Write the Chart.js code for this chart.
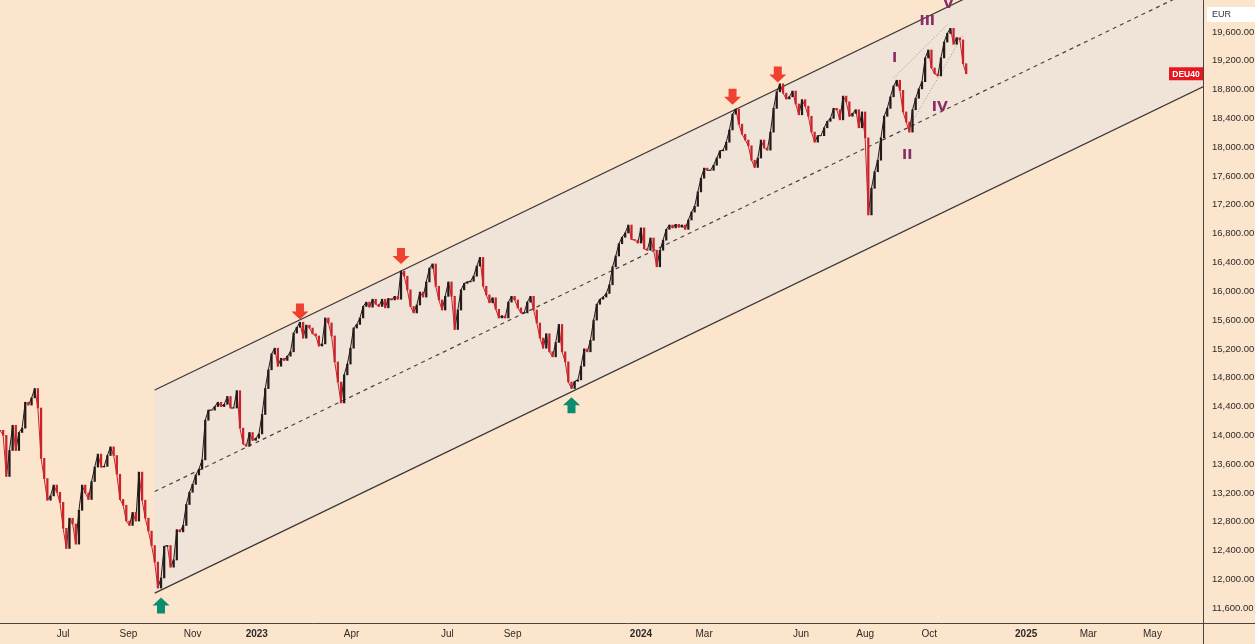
<!DOCTYPE html>
<html>
<head>
<meta charset="utf-8">
<script src="https://cdn.jsdelivr.net/npm/chart.js@4.4.0/dist/chart.umd.min.js"></script>
<style>
  html, body { margin: 0; padding: 0; background: #fce5cd; }
  #wrap { width: 1255px; height: 644px; }
</style>
</head>
<body>
<div id="wrap"><canvas id="chart" width="1255" height="644"></canvas></div>
<script>
// ============================================
// DEU40 with rising channel (x = days since 2023-01-01)
// ============================================

// price, one reading every 3 calendar days starting 2022-05-02
const firstDay = -244
const stepDays = 3
const closes = [
  14070, 14000, 13430, 13790, 14140, 13790, 14040, 14100, 14460, 14420,
  14520, 14650, 14380, 13680, 13400, 13100, 13160, 13310, 13210, 13070,
  12710, 12430, 12850, 12770, 12490, 12960, 13310, 13200, 13110, 13360,
  13560, 13740, 13560, 13570, 13720, 13840, 13720, 13460, 13110, 13030,
  12810, 12750, 12930, 12810, 13490, 13100, 12850, 12670, 12470, 12240,
  11880, 12020, 12460, 12470, 12170, 12270, 12690, 12660, 12750, 13040,
  13210, 13320, 13450, 13530, 13660, 14210, 14350, 14350, 14400, 14460,
  14400, 14430, 14540, 14380, 14380, 14620, 14100, 13880, 13850, 14040,
  13930, 13960, 14020, 14290, 14650, 14910, 15130, 15210, 14960, 15070,
  15040, 15100, 15160, 15420, 15500, 15570, 15350, 15530, 15490, 15410,
  15380, 15240, 15270, 15630, 15560, 15380, 15020, 14740, 14450, 14840,
  14990, 15210, 15490, 15540, 15630, 15790, 15850, 15780, 15890, 15820,
  15790, 15890, 15770, 15900, 15880, 15930, 15890, 16280, 16210, 16020,
  15790, 15700, 15810, 15990, 15920, 16130, 16320, 16380, 16070, 15880,
  15740, 15930, 16130, 15930, 15470, 15740, 16020, 16110, 16130, 16140,
  16210, 16350, 16470, 16070, 15950, 15840, 15910, 15750, 15630, 15660,
  15630, 15850, 15930, 15880, 15770, 15700, 15700, 15850, 15930, 15740,
  15560, 15350, 15210, 15410, 15160, 15090, 15290, 15540, 15160, 15020,
  14740, 14650, 14750, 14770, 14960, 15200, 15160, 15320, 15600, 15820,
  15890, 15920, 15970, 16090, 16340, 16490, 16660, 16750, 16810, 16920,
  16720, 16710, 16670, 16880, 16590, 16570, 16740, 16570, 16340, 16570,
  16710, 16860, 16920, 16880, 16930, 16890, 16920, 16860, 16990, 17100,
  17180, 17380, 17570, 17710, 17680, 17680, 17750, 17850, 17950, 17960,
  18070, 18240, 18460, 18530, 18320, 18180, 18100, 18020, 17820, 17720,
  17850, 18100, 17990, 17960, 18210, 18540, 18770, 18880, 18750, 18670,
  18700, 18780, 18600, 18450, 18660, 18570, 18430, 18210, 18070, 18160,
  18160, 18270, 18360, 18400, 18540, 18520, 18380, 18710, 18630, 18430,
  18470, 18520, 18270, 18490, 18130, 17060, 17430, 17660, 17820, 18130,
  18430, 18540, 18700, 18850, 18930, 18790, 18490, 18350, 18210, 18520,
  18680, 18810, 18910, 19240, 19350, 19100, 19020, 18990, 19240, 19460,
  19580, 19650, 19430, 19520, 19490, 19160, 19020
]

// channel drawn from the Oct 2022 low
const channelDays = [-97, 899]
const upperLine = [14630, 21660]
const midLine = [13220, 20250]
const lowerLine = [11810, 18840]

// ending wedge
const wedgeDaysA = [605, 656]
const wedgePricesA = [18960, 19700]
const wedgeDaysB = [621, 671]
const wedgePricesB = [18310, 19560]

// touch markers
const downArrowDays = [41, 137, 452, 495]
const downArrowPrices = [15610, 16380, 18590, 18900]
const upArrowDays = [-91, 299]
const upArrowPrices = [11750, 14530]

// wave count
const waveLabels = ['I', 'II', 'III', 'IV', 'V']
const waveDays = [606, 618, 637, 649, 657]
const wavePrices = [19240, 17890, 19750, 18560, 19990]

// axes
const xTickDays = [-184, -122, -61, 0, 90, 181, 243, 365, 425, 517, 578, 639, 731, 790, 851]
const xTickLabels = ['Jul', 'Sep', 'Nov', '2023', 'Apr', 'Jul', 'Sep', '2024', 'Mar', 'Jun', 'Aug', 'Oct', '2025', 'Mar', 'May']
const yTickValues = [11600, 12000, 12400, 12800, 13200, 13600, 14000, 14400, 14800, 15200, 15600, 16000, 16400, 16800, 17200, 17600, 18000, 18400, 18800, 19200, 19600]
const symbol = 'DEU40'
const currency = 'EUR'

const BG = '#fce5cd'
const DOWN = '#c9232c'
const UP = '#231a1a'
const FONT = "'Liberation Sans', Arial, sans-serif"

const pricePoints = closes.map((c, i) => ({ x: firstDay + i * stepDays, y: c }))
const candleBars = closes.map((c, i) => ({ x: firstDay + i * stepDays, y: [i ? closes[i - 1] : c, c] }))
const candleColors = closes.map((c, i) => (i && c < closes[i - 1]) ? DOWN : UP)

const toPts = (xs, ys) => xs.map((x, i) => ({ x, y: ys[i] }))

const overlayPlugin = {
  id: 'overlay',
  beforeDraw(chart) {
    const ctx = chart.ctx
    ctx.save()
    ctx.fillStyle = BG
    ctx.fillRect(0, 0, chart.width, chart.height)
    ctx.restore()
  },
  afterDatasetsDraw(chart) {
    const ctx = chart.ctx
    const xs = chart.scales.x
    const ys = chart.scales.y
    ctx.save()
    // red arrows pointing down onto the upper line
    ctx.fillStyle = '#f0402f'
    downArrowDays.forEach((d, i) => {
      const x = xs.getPixelForValue(d)
      const y = ys.getPixelForValue(downArrowPrices[i])
      ctx.beginPath()
      ctx.moveTo(x, y)
      ctx.lineTo(x - 8.5, y - 8)
      ctx.lineTo(x - 4, y - 8)
      ctx.lineTo(x - 4, y - 16)
      ctx.lineTo(x + 4, y - 16)
      ctx.lineTo(x + 4, y - 8)
      ctx.lineTo(x + 8.5, y - 8)
      ctx.closePath()
      ctx.fill()
    })
    // green arrows pointing up at the lower line
    ctx.fillStyle = '#0d8c70'
    upArrowDays.forEach((d, i) => {
      const x = xs.getPixelForValue(d)
      const y = ys.getPixelForValue(upArrowPrices[i])
      ctx.beginPath()
      ctx.moveTo(x, y)
      ctx.lineTo(x - 8.5, y + 8)
      ctx.lineTo(x - 4, y + 8)
      ctx.lineTo(x - 4, y + 16)
      ctx.lineTo(x + 4, y + 16)
      ctx.lineTo(x + 4, y + 8)
      ctx.lineTo(x + 8.5, y + 8)
      ctx.closePath()
      ctx.fill()
    })
    // wave labels
    ctx.fillStyle = '#8a2c68'
    ctx.font = "bold 14px 'DejaVu Sans', sans-serif"
    ctx.textAlign = 'center'
    ctx.textBaseline = 'middle'
    waveLabels.forEach((t, i) => {
      ctx.fillText(t, xs.getPixelForValue(waveDays[i]), ys.getPixelForValue(wavePrices[i]))
    })
    ctx.restore()
  },
  afterDraw(chart) {
    const ctx = chart.ctx
    const a = chart.chartArea
    const ys = chart.scales.y
    ctx.save()
    // axis frame
    ctx.strokeStyle = '#4b4540'
    ctx.lineWidth = 1
    ctx.beginPath()
    ctx.moveTo(0, a.bottom + 0.5)
    ctx.lineTo(chart.width, a.bottom + 0.5)
    ctx.moveTo(a.right + 0.5, 0)
    ctx.lineTo(a.right + 0.5, chart.height)
    ctx.stroke()
    // currency box
    ctx.fillStyle = '#ffffff'
    ctx.fillRect(a.right + 4, 7, chart.width - a.right - 4, 15)
    ctx.fillStyle = '#333'
    ctx.font = '9px ' + FONT
    ctx.textAlign = 'left'
    ctx.textBaseline = 'middle'
    ctx.fillText(currency, a.right + 9, 14.5)
    // last price tag
    const ly = ys.getPixelForValue(closes[closes.length - 1])
    ctx.fillStyle = '#e8171f'
    ctx.fillRect(a.right - 34, ly - 6.5, 34, 13)
    ctx.fillStyle = '#fff'
    ctx.font = 'bold 8.5px ' + FONT
    ctx.textAlign = 'center'
    ctx.fillText(symbol, a.right - 17, ly + 0.5)
    ctx.restore()
  }
}

new Chart(document.getElementById('chart'), {
  type: 'bar',
  data: {
    datasets: [
      {
        type: 'line', data: toPts(channelDays, upperLine), borderColor: '#3b3735', borderWidth: 1.2,
        pointRadius: 0, fill: '+1', backgroundColor: 'rgba(236, 225, 218, 0.75)', order: 10
      },
      { type: 'line', data: toPts(channelDays, lowerLine), borderColor: '#3b3735', borderWidth: 1.2, pointRadius: 0, fill: false, order: 9 },
      { type: 'line', data: toPts(channelDays, midLine), borderColor: '#4a4542', borderWidth: 1.2, borderDash: [4, 4], pointRadius: 0, fill: false, order: 8 },
      { type: 'line', data: toPts(wedgeDaysA, wedgePricesA), borderColor: '#9a918c', borderWidth: 1, borderDash: [1, 2], pointRadius: 0, fill: false, order: 7 },
      { type: 'line', data: toPts(wedgeDaysB, wedgePricesB), borderColor: '#9a918c', borderWidth: 1, borderDash: [1, 2], pointRadius: 0, fill: false, order: 6 },
      {
        type: 'line', data: pricePoints, borderWidth: 1, pointRadius: 0, fill: false, order: 2,
        segment: { borderColor: c => c.p1.parsed.y < c.p0.parsed.y ? DOWN : UP }
      },
      { type: 'bar', data: candleBars, backgroundColor: candleColors, barThickness: 1.6, grouped: false, order: 1 }
    ]
  },
  options: {
    responsive: false,
    animation: false,
    events: [],
    layout: { padding: 0 },
    plugins: { legend: { display: false }, tooltip: { enabled: false } },
    scales: {
      x: {
        type: 'linear',
        min: firstDay,
        max: 899,
        offset: false,
        grid: { display: false, drawTicks: false },
        border: { display: false },
        afterBuildTicks: s => { s.ticks = xTickDays.map(v => ({ value: v })) },
        afterFit: s => { s.height = 21; s.paddingLeft = 0; s.paddingRight = 0 },
        ticks: {
          autoSkip: false,
          maxRotation: 0,
          padding: 5,
          color: '#2e2a28',
          font: c => ({ family: FONT, size: 10, weight: /^20/.test(c.tick && c.tick.label) ? 'bold' : 'normal' }),
          callback: (v, i) => xTickLabels[i]
        }
      },
      y: {
        position: 'right',
        min: 11395,
        max: 20044,
        grid: { display: false, drawTicks: false },
        border: { display: false },
        afterBuildTicks: s => { s.ticks = yTickValues.map(v => ({ value: v })) },
        afterFit: s => { s.width = 52; s.paddingTop = 0; s.paddingBottom = 0 },
        ticks: {
          padding: 9,
          crossAlign: 'near',
          color: '#2e2a28',
          font: { family: FONT, size: 9.5 },
          callback: v => v.toLocaleString('en-US', { minimumFractionDigits: 2, maximumFractionDigits: 2 })
        }
      }
    }
  },
  plugins: [overlayPlugin]
})
</script>
</body>
</html>
